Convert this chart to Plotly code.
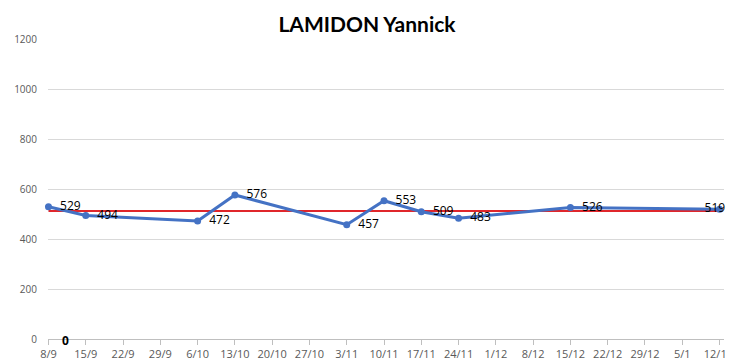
import plotly.graph_objects as go

categories = ["8/9", "15/9", "22/9", "29/9", "6/10", "13/10", "20/10", "27/10", "3/11",
              "10/11", "17/11", "24/11", "1/12", "8/12", "15/12", "22/12", "29/12", "5/1", "12/1"]
values = [529, 494, None, None, 472, 576, None, None, 457,
          553, 509, 483, None, None, 526, None, None, None, 519]
average = [512] * len(categories)
y_ticks = [0, 200, 400, 600, 800, 1000, 1200]

NB = "\u00a0"
labels = []
positions = []
for i, v in enumerate(values):
    if v is None:
        labels.append("")
        positions.append("middle right")
    elif i == len(values) - 1:
        labels.append(str(v) + NB * 3)
        positions.append("middle center")
    else:
        labels.append(NB * 2 + str(v))
        positions.append("middle right")

tick_text = categories[:-1] + [categories[-1] + NB * 3]

fig = go.Figure()
fig.add_trace(go.Scatter(
    x=categories, y=average, mode="lines",
    line=dict(color="#E0262B", width=2), hoverinfo="skip", showlegend=False))
fig.add_trace(go.Scatter(
    x=categories, y=values, mode="lines+markers+text", connectgaps=True,
    text=labels, textposition=positions,
    textfont=dict(family="Open Sans, sans-serif", size=12, color="#000000"),
    line=dict(color="#4472C4", width=3), marker=dict(color="#4472C4", size=7),
    showlegend=False, cliponaxis=False))

fig.add_annotation(x=0.456, y=0, xref="x", yref="y", text="<b>0</b>", showarrow=False,
                   yshift=-1,
                   font=dict(family="Open Sans, sans-serif", size=12, color="#000000"))

fig.update_layout(
    width=726, height=356,
    margin=dict(l=40, r=10, t=31, b=25, autoexpand=False),
    paper_bgcolor="white", plot_bgcolor="white",
    title=dict(text="<b>LAMIDON Yannick</b>", x=0.4945, xref="container", xanchor="center",
               y=1 - 17 / 356, yanchor="middle", automargin=False,
               font=dict(family="Lato, sans-serif", size=21, color="#000000")),
    xaxis=dict(type="category", range=[-0.013, 18.12], showgrid=False, automargin=False,
               showline=True, linecolor="#BFBFBF", linewidth=1,
               ticks="outside", ticklen=5, tickcolor="#BFBFBF",
               tickmode="array", tickvals=categories, ticktext=tick_text,
               ticklabeloverflow="allow",
               tickfont=dict(family="Open Sans, sans-serif", size=11, color="#595959"),
               tickangle=0, zeroline=False),
    yaxis=dict(range=[0, 1200], tickvals=y_ticks, showgrid=True, gridcolor="#D9D9D9",
               gridwidth=1, zeroline=False, showline=False, automargin=False,
               tickfont=dict(family="Open Sans, sans-serif", size=10, color="#595959"),
               ticks="", ticklabelstandoff=10),
)

fig.write_html("out.html")
